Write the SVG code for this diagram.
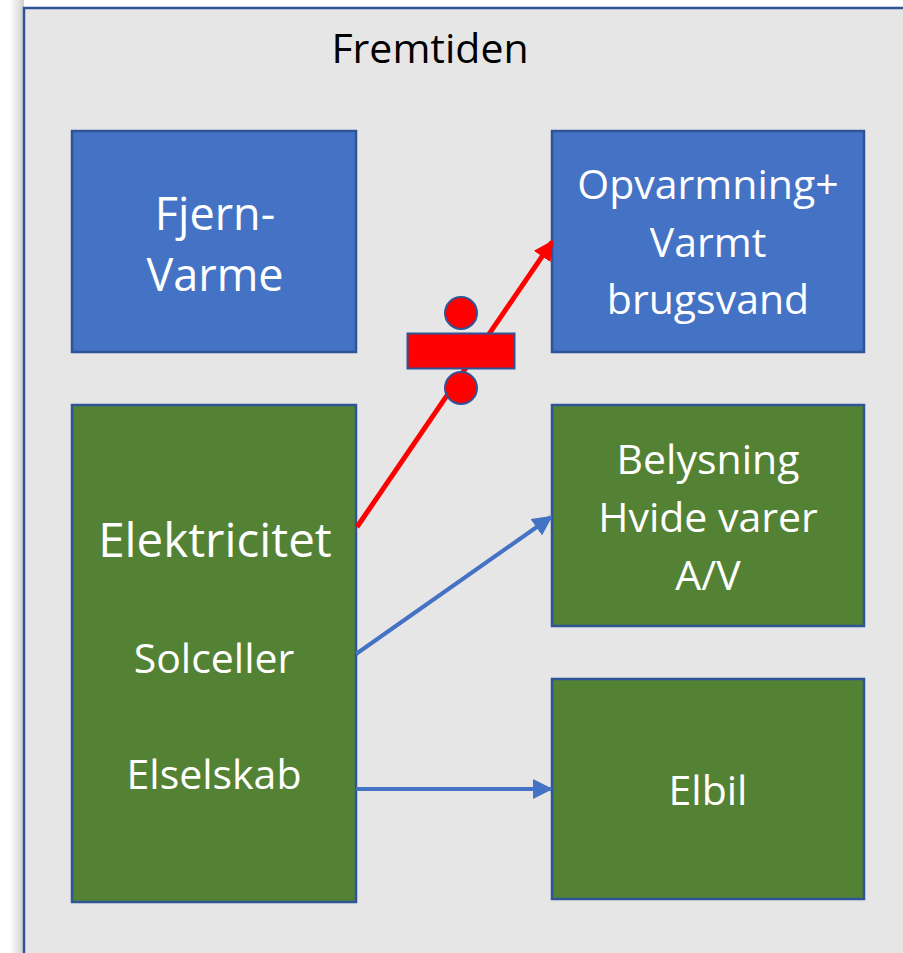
<svg xmlns="http://www.w3.org/2000/svg" width="903" height="953" viewBox="0 0 903 953">
<defs>
<style>
.box{stroke:#2f5597;stroke-width:2.5}
.blue{fill:#4472c4}
.green{fill:#548235}
.t{font-family:"Open Sans",Lato,sans-serif;fill:#ffffff;text-anchor:middle}
.red{fill:#ff0000;stroke:#2f5597;stroke-width:2}
</style>
<marker id="ab" markerWidth="5" markerHeight="5" refX="4.5" refY="2.5" orient="auto" markerUnits="strokeWidth"><path d="M0,0 L5,2.5 L0,5 z" fill="#4472c4"/></marker>
<marker id="ar" markerWidth="4" markerHeight="4" refX="3.5" refY="2" orient="auto" markerUnits="strokeWidth"><path d="M0,0 L4,2 L0,4 z" fill="#ff0000"/></marker>
<linearGradient id="sh" x1="0" x2="1" y1="0" y2="0"><stop offset="0" stop-color="#ffffff"/><stop offset="1" stop-color="#cfcfcf"/></linearGradient>
</defs>
<rect width="903" height="953" fill="#ffffff"/>
<rect x="10" y="0" width="14" height="953" fill="url(#sh)"/>
<g id="frame">
<rect x="24" y="8" width="960" height="1000" fill="#e6e6e6" stroke="#2f5597" stroke-width="2.5"/>
<text x="430" y="63" font-family="'Open Sans',Lato,sans-serif" font-size="41" fill="#000" text-anchor="middle">Fremtiden</text>
</g>
<g id="fjernvarme">
<rect class="box blue" x="72" y="131" width="284" height="221"/>
<text class="t" font-size="45" x="215" y="230">Fjern-</text>
<text class="t" font-size="45" x="215" y="291">Varme</text>
</g>
<g id="opvarmning">
<rect class="box blue" x="552" y="131" width="312" height="221"/>
<text class="t" font-size="41" x="708" y="199">Opvarmning+</text>
<text class="t" font-size="41" x="708" y="257">Varmt</text>
<text class="t" font-size="41" x="708" y="314">brugsvand</text>
</g>
<g id="elektricitet">
<rect class="box green" x="72" y="405" width="284" height="497"/>
<text class="t" font-size="47.5" x="215" y="557">Elektricitet</text>
<text class="t" font-size="41" x="214" y="673">Solceller</text>
<text class="t" font-size="41" x="214" y="789">Elselskab</text>
</g>
<g id="belysning">
<rect class="box green" x="552" y="405" width="312" height="221"/>
<text class="t" font-size="41" x="708" y="474">Belysning</text>
<text class="t" font-size="41" x="708" y="532">Hvide varer</text>
<text class="t" font-size="41" x="708" y="590">A/V</text>
</g>
<g id="elbil">
<rect class="box green" x="552" y="679" width="312" height="220"/>
<text class="t" font-size="41" x="708" y="805">Elbil</text>
</g>
<g id="connectors">
<line x1="357" y1="527" x2="552" y2="242" stroke="#ff0000" stroke-width="5" marker-end="url(#ar)"/>
<line x1="356" y1="654" x2="551" y2="517" stroke="#4472c4" stroke-width="4" marker-end="url(#ab)"/>
<line x1="356" y1="789" x2="551" y2="789" stroke="#4472c4" stroke-width="4" marker-end="url(#ab)"/>
</g>
<g id="division">
<circle class="red" cx="461" cy="313" r="16"/>
<rect class="red" x="407.5" y="333.5" width="107" height="35"/>
<circle class="red" cx="461" cy="388" r="16"/>
</g>
</svg>
